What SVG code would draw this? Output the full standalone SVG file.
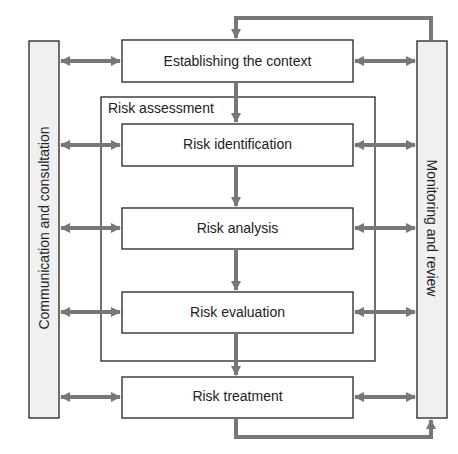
<svg xmlns="http://www.w3.org/2000/svg" width="458" height="454" viewBox="0 0 458 454">
<style>
.box{fill:#fff;stroke:#222;stroke-width:1.3}
.bar{fill:#f0f0f0;stroke:#222;stroke-width:1.3}
.lbl{font-family:"Liberation Sans",Arial,sans-serif;font-size:14px;fill:#222;text-anchor:middle;dominant-baseline:central}
.con{fill:none;stroke:#777;stroke-width:4}
</style>
<defs>
<marker id="ah" viewBox="0 0 10 10" refX="9" refY="5" markerWidth="2.6" markerHeight="2.6" orient="auto-start-reverse" markerUnits="strokeWidth">
<path d="M0,0 L10,5 L0,10 z" fill="#777"/>
</marker>
</defs>
<rect width="458" height="454" fill="#fff"/>
<g id="comm"><rect class="bar" x="29" y="41" width="30" height="377"/><text class="lbl" transform="translate(44,228) rotate(-90)">Communication and consultation</text></g>
<g id="monitor"><rect class="bar" x="417" y="41" width="30" height="377"/><text class="lbl" transform="translate(432,228) rotate(90)">Monitoring and review</text></g>
<g id="assessment"><rect class="box" x="101" y="97" width="274" height="264"/><text class="lbl" x="108" y="108" style="text-anchor:start">Risk assessment</text></g>
<g id="context"><rect class="box" x="122" y="40" width="231" height="42"/><text class="lbl" x="237.5" y="61">Establishing the context</text></g>
<g id="ident"><rect class="box" x="122" y="124" width="231" height="42"/><text class="lbl" x="237.5" y="144">Risk identification</text></g>
<g id="analysis"><rect class="box" x="122" y="208" width="231" height="41"/><text class="lbl" x="237.5" y="228">Risk analysis</text></g>
<g id="evaluation"><rect class="box" x="122" y="292" width="231" height="41"/><text class="lbl" x="237.5" y="312">Risk evaluation</text></g>
<g id="treatment"><rect class="box" x="122" y="377" width="231" height="41"/><text class="lbl" x="237.5" y="396">Risk treatment</text></g>
<g id="connectors">
<path class="con" d="M236,82 V122" marker-end="url(#ah)"/>
<path class="con" d="M236,166 V206" marker-end="url(#ah)"/>
<path class="con" d="M236,249 V290" marker-end="url(#ah)"/>
<path class="con" d="M236,333 V375" marker-end="url(#ah)"/>
<path class="con" d="M431,40 V18 H236 V38" marker-end="url(#ah)"/>
<path class="con" d="M236,418 V437 H431 V420" marker-end="url(#ah)"/>
<path class="con" d="M61,61 H120" marker-start="url(#ah)" marker-end="url(#ah)"/>
<path class="con" d="M61,145 H120" marker-start="url(#ah)" marker-end="url(#ah)"/>
<path class="con" d="M61,228 H120" marker-start="url(#ah)" marker-end="url(#ah)"/>
<path class="con" d="M61,312 H120" marker-start="url(#ah)" marker-end="url(#ah)"/>
<path class="con" d="M61,397 H120" marker-start="url(#ah)" marker-end="url(#ah)"/>
<path class="con" d="M355,61 H415" marker-start="url(#ah)" marker-end="url(#ah)"/>
<path class="con" d="M355,145 H415" marker-start="url(#ah)" marker-end="url(#ah)"/>
<path class="con" d="M355,228 H415" marker-start="url(#ah)" marker-end="url(#ah)"/>
<path class="con" d="M355,312 H415" marker-start="url(#ah)" marker-end="url(#ah)"/>
<path class="con" d="M355,397 H415" marker-start="url(#ah)" marker-end="url(#ah)"/>
</g>
</svg>
